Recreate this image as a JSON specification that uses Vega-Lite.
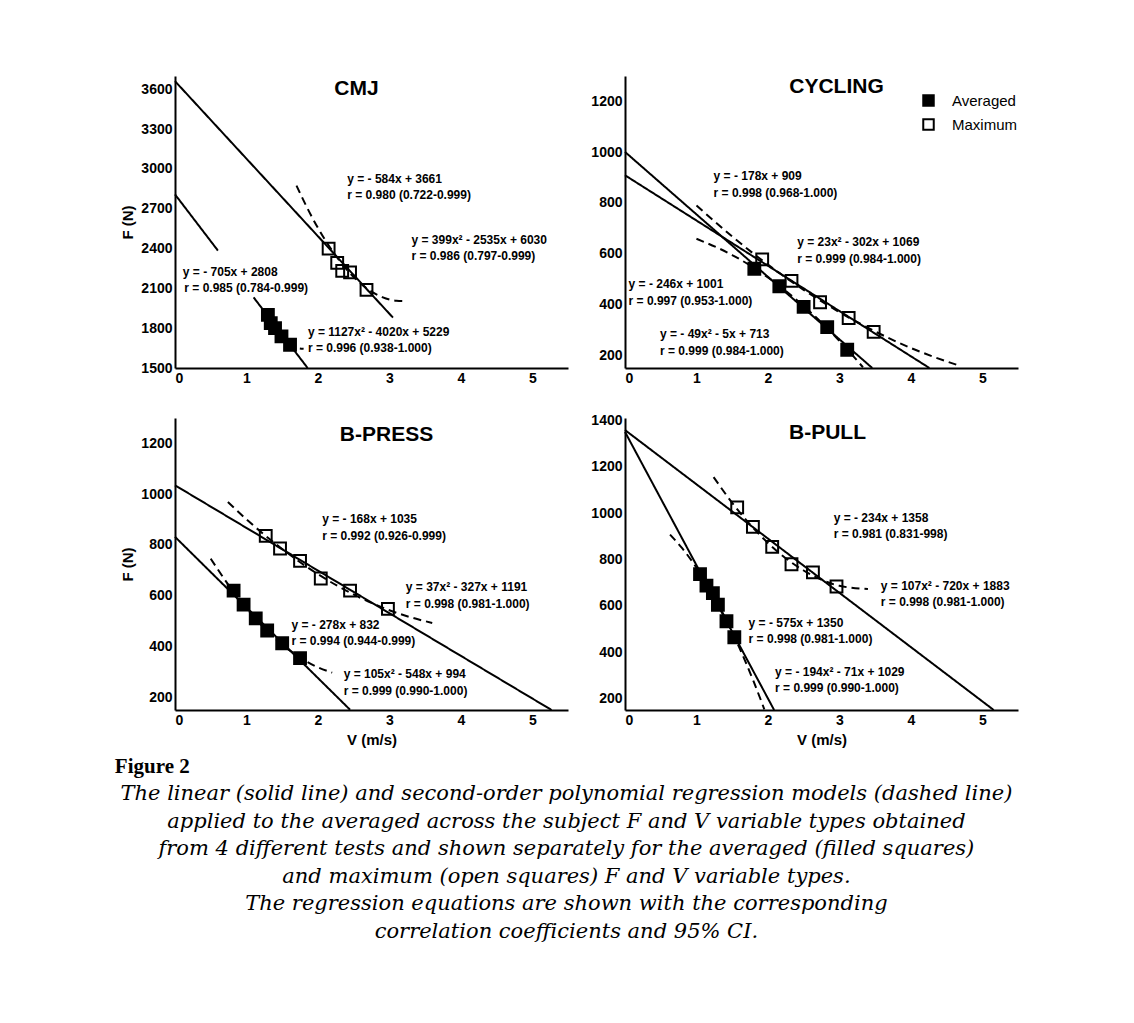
{
  "$schema": "https://vega.github.io/schema/vega-lite/v6.json",
  "padding": {"left": 114, "top": 76, "right": 10, "bottom": 5},
  "background": "white",
  "title": {
    "text": [
      "The linear (solid line) and second-order polynomial regression models (dashed line)",
      "applied to the averaged across the subject F and V variable types obtained",
      "from 4 different tests and shown separately for the averaged (filled squares)",
      "and maximum (open squares) F and V variable types.",
      "The regression equations are shown with the corresponding",
      "correlation coefficients and 95% CI."
    ],
    "orient": "bottom", "anchor": "middle", "font": "DejaVu Serif", "fontStyle": "italic",
    "fontWeight": "normal", "fontSize": 21, "lineHeight": 27.5, "offset": 6, "color": "black"
  },
  "resolve": {"scale": {"fill": "independent", "strokeDash": "independent"}, "legend": {"fill": "independent"}},
  "vconcat": [
    {
      "title": {"text": "Figure 2", "orient": "bottom", "anchor": "start", "font": "Liberation Serif", "fontWeight": "bold", "fontSize": 21, "offset": 9, "dx": -6, "color": "black"},
      "columns": 2,
      "spacing": {"row": 50, "column": 57},
      "bounds": "flush",
      "resolve": {"scale": {"fill": "independent", "strokeDash": "independent"}, "legend": {"fill": "independent"}},
      "concat": [
        {
          "width": 393, "height": 292,
          "title": {"text": "CMJ", "offset": -23, "dx": -15, "frame": "group"},
          "layer": [
            {"data": {"name": "cmj_lines"},
             "mark": {"type": "line", "color": "black", "strokeWidth": 2, "interpolate": "monotone"},
             "encoding": {
               "x": {"field": "v", "type": "quantitative", "scale": {"domain": [0, 5.5], "nice": false}, "axis": {"values": [0, 1, 2, 3, 4, 5], "format": "d", "title": null}},
               "y": {"field": "f", "type": "quantitative", "scale": {"domain": [1500, 3700], "nice": false, "zero": false}, "axis": {"values": [1500, 1800, 2100, 2400, 2700, 3000, 3300, 3600], "format": "d", "title": "F (N)"}},
               "detail": {"field": "seg", "type": "nominal"},
               "strokeDash": {"field": "model", "type": "nominal", "scale": {"domain": ["linear", "polynomial"], "range": [[1, 0], [8, 5]]}, "legend": null}
             }},
            {"data": {"name": "cmj_pts"},
             "mark": {"type": "point", "shape": "square", "filled": true, "size": 140, "stroke": "black", "strokeWidth": 2, "opacity": 1},
             "encoding": {
               "x": {"field": "v", "type": "quantitative"},
               "y": {"field": "f", "type": "quantitative"},
               "fill": {"field": "type", "type": "nominal", "scale": {"domain": ["Averaged", "Maximum"], "range": ["black", "transparent"]}, "legend": null}
             }},
            {"data": {"name": "cmj_txt"},
             "mark": {"type": "text", "align": "left", "baseline": "middle", "font": "Liberation Sans", "fontWeight": "bold", "fontSize": 12, "color": "black"},
             "encoding": {
               "x": {"field": "v", "type": "quantitative"},
               "y": {"field": "f", "type": "quantitative"},
               "text": {"field": "label", "type": "nominal"}
             }}
          ]
        },
        {
          "width": 393, "height": 292,
          "title": {"text": "CYCLING", "offset": -21, "dx": 15, "frame": "group"},
          "layer": [
            {"data": {"name": "cyc_lines"},
             "mark": {"type": "line", "color": "black", "strokeWidth": 2, "interpolate": "monotone"},
             "encoding": {
               "x": {"field": "v", "type": "quantitative", "scale": {"domain": [0, 5.5], "nice": false}, "axis": {"values": [0, 1, 2, 3, 4, 5], "format": "d", "title": null}},
               "y": {"field": "f", "type": "quantitative", "scale": {"domain": [150, 1300], "nice": false, "zero": false}, "axis": {"values": [200, 400, 600, 800, 1000, 1200], "format": "d", "title": null}},
               "detail": {"field": "seg", "type": "nominal"},
               "strokeDash": {"field": "model", "type": "nominal", "scale": {"domain": ["linear", "polynomial"], "range": [[1, 0], [8, 5]]}, "legend": null}
             }},
            {"data": {"name": "cyc_pts"},
             "mark": {"type": "point", "shape": "square", "filled": true, "size": 140, "stroke": "black", "strokeWidth": 2, "opacity": 1},
             "encoding": {
               "x": {"field": "v", "type": "quantitative"},
               "y": {"field": "f", "type": "quantitative"},
               "fill": {"field": "type", "type": "nominal", "scale": {"domain": ["Averaged", "Maximum"], "range": ["black", "transparent"]},
                        "legend": {"title": null, "orient": "none", "legendX": 296, "legendY": 17, "symbolType": "square", "symbolSize": 110,
                                   "symbolStrokeColor": "black", "symbolStrokeWidth": 2, "labelFont": "Liberation Sans", "labelFontSize": 15,
                                   "labelColor": "black", "labelOffset": 16, "rowPadding": 5}}
             }},
            {"data": {"name": "cyc_txt"},
             "mark": {"type": "text", "align": "left", "baseline": "middle", "font": "Liberation Sans", "fontWeight": "bold", "fontSize": 12, "color": "black"},
             "encoding": {
               "x": {"field": "v", "type": "quantitative"},
               "y": {"field": "f", "type": "quantitative"},
               "text": {"field": "label", "type": "nominal"}
             }}
          ]
        },
        {
          "width": 393, "height": 292,
          "title": {"text": "B-PRESS", "offset": -27, "dx": 15, "frame": "group"},
          "layer": [
            {"data": {"name": "bp_lines"},
             "mark": {"type": "line", "color": "black", "strokeWidth": 2, "interpolate": "monotone"},
             "encoding": {
               "x": {"field": "v", "type": "quantitative", "scale": {"domain": [0, 5.5], "nice": false}, "axis": {"values": [0, 1, 2, 3, 4, 5], "format": "d", "title": "V (m/s)"}},
               "y": {"field": "f", "type": "quantitative", "scale": {"domain": [150, 1300], "nice": false, "zero": false}, "axis": {"values": [200, 400, 600, 800, 1000, 1200], "format": "d", "title": "F (N)"}},
               "detail": {"field": "seg", "type": "nominal"},
               "strokeDash": {"field": "model", "type": "nominal", "scale": {"domain": ["linear", "polynomial"], "range": [[1, 0], [8, 5]]}, "legend": null}
             }},
            {"data": {"name": "bp_pts"},
             "mark": {"type": "point", "shape": "square", "filled": true, "size": 140, "stroke": "black", "strokeWidth": 2, "opacity": 1},
             "encoding": {
               "x": {"field": "v", "type": "quantitative"},
               "y": {"field": "f", "type": "quantitative"},
               "fill": {"field": "type", "type": "nominal", "scale": {"domain": ["Averaged", "Maximum"], "range": ["black", "transparent"]}, "legend": null}
             }},
            {"data": {"name": "bp_txt"},
             "mark": {"type": "text", "align": "left", "baseline": "middle", "font": "Liberation Sans", "fontWeight": "bold", "fontSize": 12, "color": "black"},
             "encoding": {
               "x": {"field": "v", "type": "quantitative"},
               "y": {"field": "f", "type": "quantitative"},
               "text": {"field": "label", "type": "nominal"}
             }}
          ]
        },
        {
          "width": 393, "height": 292,
          "title": {"text": "B-PULL", "offset": -30, "dx": 6, "frame": "group"},
          "layer": [
            {"data": {"name": "bpl_lines"},
             "mark": {"type": "line", "color": "black", "strokeWidth": 2, "interpolate": "monotone"},
             "encoding": {
               "x": {"field": "v", "type": "quantitative", "scale": {"domain": [0, 5.5], "nice": false}, "axis": {"values": [0, 1, 2, 3, 4, 5], "format": "d", "title": "V (m/s)"}},
               "y": {"field": "f", "type": "quantitative", "scale": {"domain": [150, 1410], "nice": false, "zero": false}, "axis": {"values": [200, 400, 600, 800, 1000, 1200, 1400], "format": "d", "title": null}},
               "detail": {"field": "seg", "type": "nominal"},
               "strokeDash": {"field": "model", "type": "nominal", "scale": {"domain": ["linear", "polynomial"], "range": [[1, 0], [8, 5]]}, "legend": null}
             }},
            {"data": {"name": "bpl_pts"},
             "mark": {"type": "point", "shape": "square", "filled": true, "size": 140, "stroke": "black", "strokeWidth": 2, "opacity": 1},
             "encoding": {
               "x": {"field": "v", "type": "quantitative"},
               "y": {"field": "f", "type": "quantitative"},
               "fill": {"field": "type", "type": "nominal", "scale": {"domain": ["Averaged", "Maximum"], "range": ["black", "transparent"]}, "legend": null}
             }},
            {"data": {"name": "bpl_txt"},
             "mark": {"type": "text", "align": "left", "baseline": "middle", "font": "Liberation Sans", "fontWeight": "bold", "fontSize": 12, "color": "black"},
             "encoding": {
               "x": {"field": "v", "type": "quantitative"},
               "y": {"field": "f", "type": "quantitative"},
               "text": {"field": "label", "type": "nominal"}
             }}
          ]
        }
      ]
    }
  ],
  "datasets": {
    "cmj_lines": [
      {"seg": "max-lin", "model": "linear", "v": 0, "f": 3661}, {"seg": "max-lin", "model": "linear", "v": 3.05, "f": 1880},
      {"seg": "avg-lin-a", "model": "linear", "v": 0, "f": 2808}, {"seg": "avg-lin-a", "model": "linear", "v": 0.6, "f": 2385},
      {"seg": "avg-lin-b", "model": "linear", "v": 1.1, "f": 2032}, {"seg": "avg-lin-b", "model": "linear", "v": 1.856, "f": 1500},
      {"seg": "max-poly", "model": "polynomial", "v": 1.7, "f": 2874}, {"seg": "max-poly", "model": "polynomial", "v": 1.9, "f": 2654},
      {"seg": "max-poly", "model": "polynomial", "v": 2.1, "f": 2466}, {"seg": "max-poly", "model": "polynomial", "v": 2.3, "f": 2310},
      {"seg": "max-poly", "model": "polynomial", "v": 2.5, "f": 2186}, {"seg": "max-poly", "model": "polynomial", "v": 2.7, "f": 2094},
      {"seg": "max-poly", "model": "polynomial", "v": 2.9, "f": 2034}, {"seg": "max-poly", "model": "polynomial", "v": 3.1, "f": 2006},
      {"seg": "max-poly", "model": "polynomial", "v": 3.2, "f": 2004},
      {"seg": "avg-poly", "model": "polynomial", "v": 1.28, "f": 1930}, {"seg": "avg-poly", "model": "polynomial", "v": 1.4, "f": 1810},
      {"seg": "avg-poly", "model": "polynomial", "v": 1.5, "f": 1735}, {"seg": "avg-poly", "model": "polynomial", "v": 1.6, "f": 1682},
      {"seg": "avg-poly", "model": "polynomial", "v": 1.7, "f": 1652}, {"seg": "avg-poly", "model": "polynomial", "v": 1.8, "f": 1645}
    ],
    "cmj_pts": [
      {"type": "Maximum", "v": 2.15, "f": 2400}, {"type": "Maximum", "v": 2.27, "f": 2292}, {"type": "Maximum", "v": 2.34, "f": 2232},
      {"type": "Maximum", "v": 2.45, "f": 2220}, {"type": "Maximum", "v": 2.68, "f": 2088},
      {"type": "Averaged", "v": 1.30, "f": 1900}, {"type": "Averaged", "v": 1.34, "f": 1838}, {"type": "Averaged", "v": 1.40, "f": 1800},
      {"type": "Averaged", "v": 1.49, "f": 1738}, {"type": "Averaged", "v": 1.61, "f": 1675}
    ],
    "cmj_txt": [
      {"v": 2.41, "f": 2925, "label": "y = - 584x + 3661"}, {"v": 2.41, "f": 2805, "label": "r = 0.980 (0.722-0.999)"},
      {"v": 3.31, "f": 2465, "label": "y = 399x² - 2535x + 6030"}, {"v": 3.31, "f": 2345, "label": "r = 0.986 (0.797-0.999)"},
      {"v": 0.11, "f": 2225, "label": "y = - 705x + 2808"}, {"v": 0.13, "f": 2105, "label": "r = 0.985 (0.784-0.999)"},
      {"v": 1.86, "f": 1770, "label": "y = 1127x² - 4020x + 5229"}, {"v": 1.86, "f": 1650, "label": "r = 0.996 (0.938-1.000)"}
    ],
    "cyc_lines": [
      {"seg": "avg-lin", "model": "linear", "v": 0, "f": 1001}, {"seg": "avg-lin", "model": "linear", "v": 3.46, "f": 150},
      {"seg": "max-lin", "model": "linear", "v": 0, "f": 909}, {"seg": "max-lin", "model": "linear", "v": 4.26, "f": 150},
      {"seg": "max-poly", "model": "polynomial", "v": 1.0, "f": 790}, {"seg": "max-poly", "model": "polynomial", "v": 1.5, "f": 668},
      {"seg": "max-poly", "model": "polynomial", "v": 2.0, "f": 557}, {"seg": "max-poly", "model": "polynomial", "v": 2.5, "f": 458},
      {"seg": "max-poly", "model": "polynomial", "v": 3.0, "f": 370}, {"seg": "max-poly", "model": "polynomial", "v": 3.5, "f": 294},
      {"seg": "max-poly", "model": "polynomial", "v": 4.0, "f": 229}, {"seg": "max-poly", "model": "polynomial", "v": 4.3, "f": 196},
      {"seg": "max-poly", "model": "polynomial", "v": 4.65, "f": 162},
      {"seg": "avg-poly", "model": "polynomial", "v": 1.0, "f": 659}, {"seg": "avg-poly", "model": "polynomial", "v": 1.5, "f": 595},
      {"seg": "avg-poly", "model": "polynomial", "v": 2.0, "f": 507}, {"seg": "avg-poly", "model": "polynomial", "v": 2.5, "f": 394},
      {"seg": "avg-poly", "model": "polynomial", "v": 3.0, "f": 257}, {"seg": "avg-poly", "model": "polynomial", "v": 3.33, "f": 153}
    ],
    "cyc_pts": [
      {"type": "Maximum", "v": 1.92, "f": 578}, {"type": "Maximum", "v": 2.33, "f": 493}, {"type": "Maximum", "v": 2.73, "f": 409},
      {"type": "Maximum", "v": 3.13, "f": 347}, {"type": "Maximum", "v": 3.48, "f": 292},
      {"type": "Averaged", "v": 1.81, "f": 541}, {"type": "Averaged", "v": 2.16, "f": 472}, {"type": "Averaged", "v": 2.50, "f": 391},
      {"type": "Averaged", "v": 2.83, "f": 311}, {"type": "Averaged", "v": 3.11, "f": 222}
    ],
    "cyc_txt": [
      {"v": 1.24, "f": 905, "label": "y = - 178x + 909"}, {"v": 1.24, "f": 838, "label": "r = 0.998 (0.968-1.000)"},
      {"v": 2.41, "f": 646, "label": "y = 23x² - 302x + 1069"}, {"v": 2.41, "f": 579, "label": "r = 0.999 (0.984-1.000)"},
      {"v": 0.05, "f": 480, "label": "y = - 246x + 1001"}, {"v": 0.05, "f": 413, "label": "r = 0.997 (0.953-1.000)"},
      {"v": 0.49, "f": 284, "label": "y = - 49x² - 5x + 713"}, {"v": 0.49, "f": 217, "label": "r = 0.999 (0.984-1.000)"}
    ],
    "bp_lines": [
      {"seg": "max-lin", "model": "linear", "v": 0, "f": 1035}, {"seg": "max-lin", "model": "linear", "v": 5.27, "f": 150},
      {"seg": "avg-lin", "model": "linear", "v": 0, "f": 832}, {"seg": "avg-lin", "model": "linear", "v": 2.45, "f": 151},
      {"seg": "max-poly", "model": "polynomial", "v": 0.74, "f": 969}, {"seg": "max-poly", "model": "polynomial", "v": 1.0, "f": 901},
      {"seg": "max-poly", "model": "polynomial", "v": 1.5, "f": 784}, {"seg": "max-poly", "model": "polynomial", "v": 2.0, "f": 685},
      {"seg": "max-poly", "model": "polynomial", "v": 2.5, "f": 605}, {"seg": "max-poly", "model": "polynomial", "v": 3.0, "f": 543},
      {"seg": "max-poly", "model": "polynomial", "v": 3.3, "f": 515}, {"seg": "max-poly", "model": "polynomial", "v": 3.6, "f": 493},
      {"seg": "avg-poly", "model": "polynomial", "v": 0.5, "f": 746}, {"seg": "avg-poly", "model": "polynomial", "v": 0.75, "f": 642},
      {"seg": "avg-poly", "model": "polynomial", "v": 1.0, "f": 551}, {"seg": "avg-poly", "model": "polynomial", "v": 1.25, "f": 473},
      {"seg": "avg-poly", "model": "polynomial", "v": 1.5, "f": 408}, {"seg": "avg-poly", "model": "polynomial", "v": 1.75, "f": 357},
      {"seg": "avg-poly", "model": "polynomial", "v": 2.0, "f": 318}, {"seg": "avg-poly", "model": "polynomial", "v": 2.2, "f": 297}
    ],
    "bp_pts": [
      {"type": "Maximum", "v": 1.27, "f": 836}, {"type": "Maximum", "v": 1.47, "f": 786}, {"type": "Maximum", "v": 1.75, "f": 737},
      {"type": "Maximum", "v": 2.04, "f": 668}, {"type": "Maximum", "v": 2.45, "f": 620}, {"type": "Maximum", "v": 2.98, "f": 548},
      {"type": "Averaged", "v": 0.82, "f": 620}, {"type": "Averaged", "v": 0.96, "f": 565}, {"type": "Averaged", "v": 1.13, "f": 511},
      {"type": "Averaged", "v": 1.29, "f": 463}, {"type": "Averaged", "v": 1.50, "f": 413}, {"type": "Averaged", "v": 1.75, "f": 354}
    ],
    "bp_txt": [
      {"v": 2.06, "f": 902, "label": "y = - 168x + 1035"}, {"v": 2.06, "f": 837, "label": "r = 0.992 (0.926-0.999)"},
      {"v": 3.23, "f": 633, "label": "y = 37x² - 327x + 1191"}, {"v": 3.23, "f": 568, "label": "r = 0.998 (0.981-1.000)"},
      {"v": 1.63, "f": 485, "label": "y = - 278x + 832"}, {"v": 1.63, "f": 420, "label": "r = 0.994 (0.944-0.999)"},
      {"v": 2.36, "f": 290, "label": "y = 105x² - 548x + 994"}, {"v": 2.36, "f": 225, "label": "r = 0.999 (0.990-1.000)"}
    ],
    "bpl_lines": [
      {"seg": "max-lin", "model": "linear", "v": 0, "f": 1358}, {"seg": "max-lin", "model": "linear", "v": 5.16, "f": 150},
      {"seg": "avg-lin", "model": "linear", "v": 0, "f": 1350}, {"seg": "avg-lin", "model": "linear", "v": 2.087, "f": 150},
      {"seg": "max-poly", "model": "polynomial", "v": 1.24, "f": 1155}, {"seg": "max-poly", "model": "polynomial", "v": 1.5, "f": 1044},
      {"seg": "max-poly", "model": "polynomial", "v": 2.0, "f": 871}, {"seg": "max-poly", "model": "polynomial", "v": 2.5, "f": 752},
      {"seg": "max-poly", "model": "polynomial", "v": 3.0, "f": 686}, {"seg": "max-poly", "model": "polynomial", "v": 3.4, "f": 672},
      {"seg": "avg-poly", "model": "polynomial", "v": 0.63, "f": 907}, {"seg": "avg-poly", "model": "polynomial", "v": 0.8, "f": 848},
      {"seg": "avg-poly", "model": "polynomial", "v": 1.0, "f": 764}, {"seg": "avg-poly", "model": "polynomial", "v": 1.2, "f": 664},
      {"seg": "avg-poly", "model": "polynomial", "v": 1.4, "f": 549}, {"seg": "avg-poly", "model": "polynomial", "v": 1.6, "f": 419},
      {"seg": "avg-poly", "model": "polynomial", "v": 1.8, "f": 273}, {"seg": "avg-poly", "model": "polynomial", "v": 1.95, "f": 153}
    ],
    "bpl_pts": [
      {"type": "Maximum", "v": 1.57, "f": 1024}, {"type": "Maximum", "v": 1.79, "f": 940}, {"type": "Maximum", "v": 2.06, "f": 854},
      {"type": "Maximum", "v": 2.33, "f": 779}, {"type": "Maximum", "v": 2.63, "f": 744}, {"type": "Maximum", "v": 2.96, "f": 683},
      {"type": "Averaged", "v": 1.05, "f": 736}, {"type": "Averaged", "v": 1.14, "f": 687}, {"type": "Averaged", "v": 1.23, "f": 654},
      {"type": "Averaged", "v": 1.30, "f": 604}, {"type": "Averaged", "v": 1.42, "f": 533}, {"type": "Averaged", "v": 1.53, "f": 464}
    ],
    "bpl_txt": [
      {"v": 2.92, "f": 979, "label": "y = - 234x + 1358"}, {"v": 2.92, "f": 908, "label": "r = 0.981 (0.831-998)"},
      {"v": 3.58, "f": 687, "label": "y = 107x² - 720x + 1883"}, {"v": 3.58, "f": 616, "label": "r = 0.998 (0.981-1.000)"},
      {"v": 1.73, "f": 526, "label": "y = - 575x + 1350"}, {"v": 1.73, "f": 455, "label": "r = 0.998 (0.981-1.000)"},
      {"v": 2.10, "f": 314, "label": "y = - 194x² - 71x + 1029"}, {"v": 2.10, "f": 243, "label": "r = 0.999 (0.990-1.000)"}
    ]
  },
  "config": {
    "font": "Liberation Sans",
    "view": {"stroke": null},
    "axis": {
      "domainColor": "black", "domainWidth": 2, "ticks": false, "grid": false,
      "labelFont": "Liberation Sans", "labelFontWeight": "bold", "labelFontSize": 14, "labelColor": "black", "labelPadding": 3,
      "titleFont": "Liberation Sans", "titleFontWeight": "bold", "titleFontSize": 15, "titleColor": "black", "titlePadding": 5
    },
    "title": {"font": "Liberation Sans", "fontWeight": "bold", "fontSize": 21, "color": "black"}
  }
}
